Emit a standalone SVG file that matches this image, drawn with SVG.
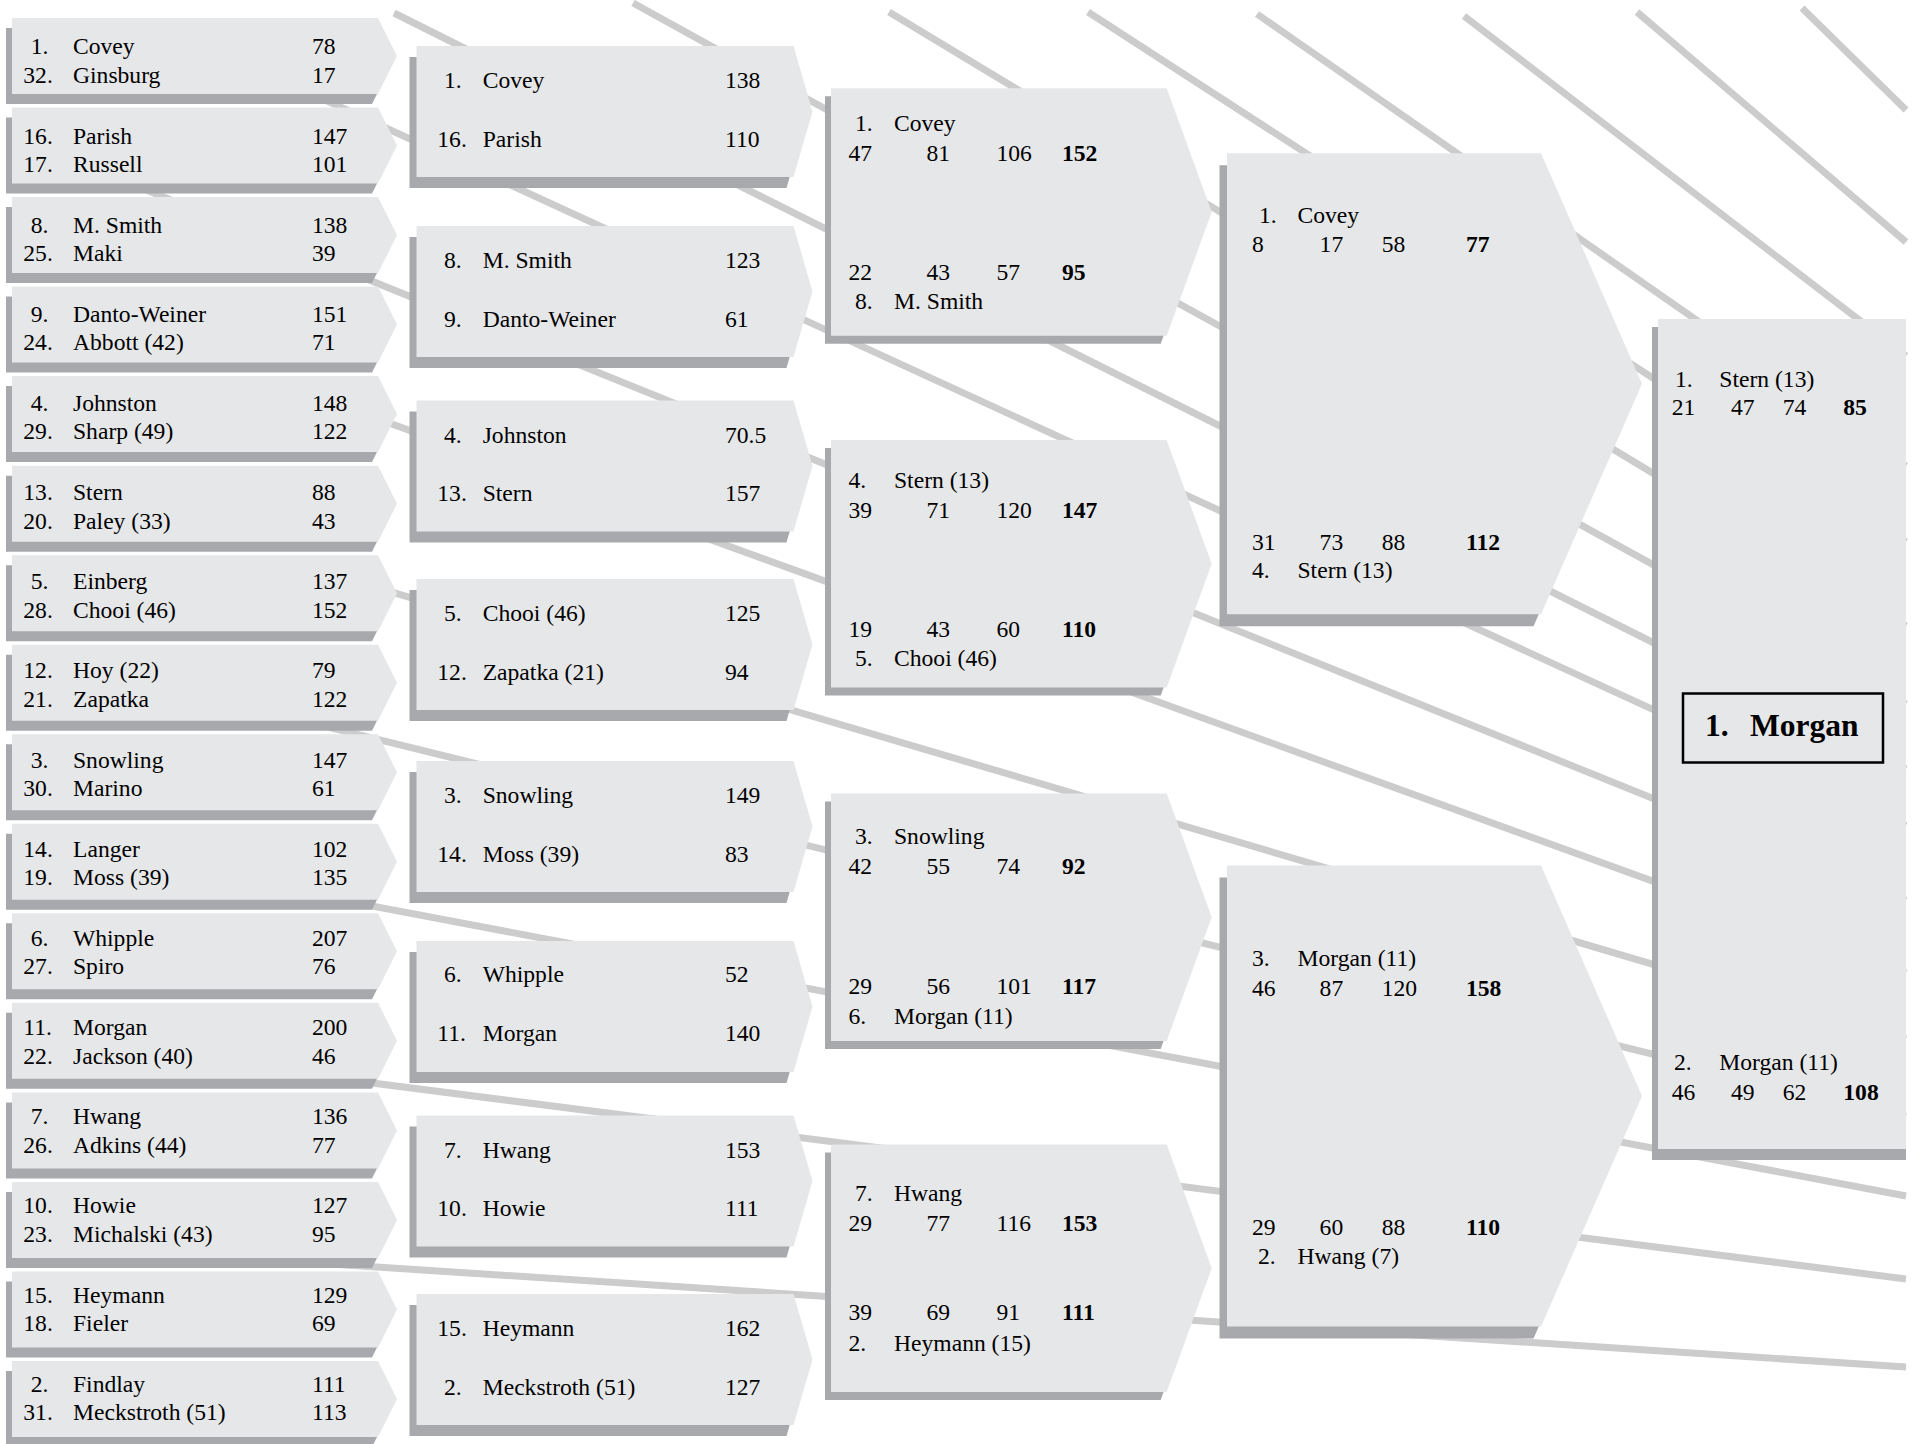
<svg xmlns="http://www.w3.org/2000/svg" width="1921" height="1444" viewBox="0 0 1921 1444" font-family="'Liberation Serif', 'Times New Roman', serif">
<style>
.bx{fill:#e6e7e8}
.sh{fill:#a7a9ac}
.ln{stroke:#cccccc;stroke-width:7;fill:none}
text{font-family:"Liberation Serif","Times New Roman",serif;font-size:23.6px;fill:#000}
.b{font-weight:bold}
.w{font-size:31.5px;font-weight:bold}
.fr{fill:none;stroke:#000;stroke-width:2.5}
</style>
<defs>
<polygon id="p1" points="0,0 366,0 385,38 366,76 0,76"/>
<polygon id="p2" points="0,0 377,0 396,65.5 377,131 0,131"/>
<polygon id="p3" points="0,0 335.7,0 380.7,123.75 335.7,247.5 0,247.5"/>
<polygon id="p4" points="0,0 314,0 415,230.5 314,461 0,461"/>
</defs>
<rect width="1921" height="1444" fill="#fff"/>
<g id="connectors">
<line class="ln" x1="1802" y1="8" x2="1906" y2="110"/>
<line class="ln" x1="1637" y1="12" x2="1906" y2="242"/>
<line class="ln" x1="1464" y1="16" x2="1906" y2="356"/>
<line class="ln" x1="1257" y1="14" x2="1906" y2="466"/>
<line class="ln" x1="1088" y1="12" x2="1906" y2="542"/>
<line class="ln" x1="889" y1="12" x2="1906" y2="626"/>
<line class="ln" x1="633" y1="3" x2="1906" y2="704"/>
<line class="ln" x1="394" y1="13" x2="1906" y2="769"/>
<line class="ln" x1="250" y1="65.5" x2="1906" y2="825.6"/>
<line class="ln" x1="20" y1="139" x2="1906" y2="900.6"/>
<line class="ln" x1="300" y1="390.7" x2="1906" y2="973"/>
<line class="ln" x1="300" y1="565" x2="1906" y2="1039"/>
<line class="ln" x1="320" y1="725.1" x2="1906" y2="1116.7"/>
<line class="ln" x1="300" y1="892.4" x2="1906" y2="1196"/>
<line class="ln" x1="300" y1="1073.8" x2="1906" y2="1279"/>
<line class="ln" x1="300" y1="1262" x2="1906" y2="1367"/>
</g>

<g id="r1-1"><use href="#p1" class="sh" x="6" y="28"/><use href="#p1" class="bx" x="12" y="18"/>
<text x="30.7" y="54.3">1.</text><text x="73" y="54.3">Covey</text><text x="312" y="54.3">78</text>
<text x="23.3" y="82.7">32.</text><text x="73" y="82.7">Ginsburg</text><text x="312" y="82.7">17</text></g>
<g id="r1-2"><use href="#p1" class="sh" x="6" y="117.5"/><use href="#p1" class="bx" x="12" y="107.5"/>
<text x="23.3" y="143.5">16.</text><text x="73" y="143.5">Parish</text><text x="312" y="143.5">147</text>
<text x="23.3" y="171.9">17.</text><text x="73" y="171.9">Russell</text><text x="312" y="171.9">101</text></g>
<g id="r1-3"><use href="#p1" class="sh" x="6" y="207.1"/><use href="#p1" class="bx" x="12" y="197.1"/>
<text x="30.7" y="232.6">8.</text><text x="73" y="232.6">M. Smith</text><text x="312" y="232.6">138</text>
<text x="23.3" y="261">25.</text><text x="73" y="261">Maki</text><text x="312" y="261">39</text></g>
<g id="r1-4"><use href="#p1" class="sh" x="6" y="296.6"/><use href="#p1" class="bx" x="12" y="286.6"/>
<text x="30.7" y="321.8">9.</text><text x="73" y="321.8">Danto-Weiner</text><text x="312" y="321.8">151</text>
<text x="23.3" y="350.2">24.</text><text x="73" y="350.2">Abbott (42)</text><text x="312" y="350.2">71</text></g>
<g id="r1-5"><use href="#p1" class="sh" x="6" y="386.1"/><use href="#p1" class="bx" x="12" y="376.1"/>
<text x="30.7" y="411">4.</text><text x="73" y="411">Johnston</text><text x="312" y="411">148</text>
<text x="23.3" y="439.4">29.</text><text x="73" y="439.4">Sharp (49)</text><text x="312" y="439.4">122</text></g>
<g id="r1-6"><use href="#p1" class="sh" x="6" y="475.7"/><use href="#p1" class="bx" x="12" y="465.7"/>
<text x="23.3" y="500.1">13.</text><text x="73" y="500.1">Stern</text><text x="312" y="500.1">88</text>
<text x="23.3" y="528.5">20.</text><text x="73" y="528.5">Paley (33)</text><text x="312" y="528.5">43</text></g>
<g id="r1-7"><use href="#p1" class="sh" x="6" y="565.2"/><use href="#p1" class="bx" x="12" y="555.2"/>
<text x="30.7" y="589.3">5.</text><text x="73" y="589.3">Einberg</text><text x="312" y="589.3">137</text>
<text x="23.3" y="617.7">28.</text><text x="73" y="617.7">Chooi (46)</text><text x="312" y="617.7">152</text></g>
<g id="r1-8"><use href="#p1" class="sh" x="6" y="654.7"/><use href="#p1" class="bx" x="12" y="644.7"/>
<text x="23.3" y="678.4">12.</text><text x="73" y="678.4">Hoy (22)</text><text x="312" y="678.4">79</text>
<text x="23.3" y="706.8">21.</text><text x="73" y="706.8">Zapatka</text><text x="312" y="706.8">122</text></g>
<g id="r1-9"><use href="#p1" class="sh" x="6" y="744.2"/><use href="#p1" class="bx" x="12" y="734.2"/>
<text x="30.7" y="767.6">3.</text><text x="73" y="767.6">Snowling</text><text x="312" y="767.6">147</text>
<text x="23.3" y="796">30.</text><text x="73" y="796">Marino</text><text x="312" y="796">61</text></g>
<g id="r1-10"><use href="#p1" class="sh" x="6" y="833.8"/><use href="#p1" class="bx" x="12" y="823.8"/>
<text x="23.3" y="856.7">14.</text><text x="73" y="856.7">Langer</text><text x="312" y="856.7">102</text>
<text x="23.3" y="885.1">19.</text><text x="73" y="885.1">Moss (39)</text><text x="312" y="885.1">135</text></g>
<g id="r1-11"><use href="#p1" class="sh" x="6" y="923.3"/><use href="#p1" class="bx" x="12" y="913.3"/>
<text x="30.7" y="945.9">6.</text><text x="73" y="945.9">Whipple</text><text x="312" y="945.9">207</text>
<text x="23.3" y="974.3">27.</text><text x="73" y="974.3">Spiro</text><text x="312" y="974.3">76</text></g>
<g id="r1-12"><use href="#p1" class="sh" x="6" y="1012.8"/><use href="#p1" class="bx" x="12" y="1002.8"/>
<text x="23.3" y="1035.1">11.</text><text x="73" y="1035.1">Morgan</text><text x="312" y="1035.1">200</text>
<text x="23.3" y="1063.5">22.</text><text x="73" y="1063.5">Jackson (40)</text><text x="312" y="1063.5">46</text></g>
<g id="r1-13"><use href="#p1" class="sh" x="6" y="1102.4"/><use href="#p1" class="bx" x="12" y="1092.4"/>
<text x="30.7" y="1124.2">7.</text><text x="73" y="1124.2">Hwang</text><text x="312" y="1124.2">136</text>
<text x="23.3" y="1152.6">26.</text><text x="73" y="1152.6">Adkins (44)</text><text x="312" y="1152.6">77</text></g>
<g id="r1-14"><use href="#p1" class="sh" x="6" y="1191.9"/><use href="#p1" class="bx" x="12" y="1181.9"/>
<text x="23.3" y="1213.4">10.</text><text x="73" y="1213.4">Howie</text><text x="312" y="1213.4">127</text>
<text x="23.3" y="1241.8">23.</text><text x="73" y="1241.8">Michalski (43)</text><text x="312" y="1241.8">95</text></g>
<g id="r1-15"><use href="#p1" class="sh" x="6" y="1281.4"/><use href="#p1" class="bx" x="12" y="1271.4"/>
<text x="23.3" y="1302.6">15.</text><text x="73" y="1302.6">Heymann</text><text x="312" y="1302.6">129</text>
<text x="23.3" y="1331">18.</text><text x="73" y="1331">Fieler</text><text x="312" y="1331">69</text></g>
<g id="r1-16"><use href="#p1" class="sh" x="6" y="1371"/><use href="#p1" class="bx" x="12" y="1361"/>
<text x="30.7" y="1391.7">2.</text><text x="73" y="1391.7">Findlay</text><text x="312" y="1391.7">111</text>
<text x="23.3" y="1420.1">31.</text><text x="73" y="1420.1">Meckstroth (51)</text><text x="312" y="1420.1">113</text></g>

<g id="r2-1"><use href="#p2" class="sh" x="409.5" y="57"/><use href="#p2" class="bx" x="416.5" y="46"/>
<text x="444" y="88.3">1.</text><text x="482.7" y="88.3">Covey</text><text x="725" y="88.3">138</text>
<text x="437.3" y="146.7">16.</text><text x="482.7" y="146.7">Parish</text><text x="725" y="146.7">110</text></g>
<g id="r2-2"><use href="#p2" class="sh" x="409.5" y="237"/><use href="#p2" class="bx" x="416.5" y="226"/>
<text x="444" y="268.3">8.</text><text x="482.7" y="268.3">M. Smith</text><text x="725" y="268.3">123</text>
<text x="444" y="326.7">9.</text><text x="482.7" y="326.7">Danto-Weiner</text><text x="725" y="326.7">61</text></g>
<g id="r2-3"><use href="#p2" class="sh" x="409.5" y="411.5"/><use href="#p2" class="bx" x="416.5" y="400.5"/>
<text x="444" y="442.8">4.</text><text x="482.7" y="442.8">Johnston</text><text x="725" y="442.8">70.5</text>
<text x="437.3" y="501.2">13.</text><text x="482.7" y="501.2">Stern</text><text x="725" y="501.2">157</text></g>
<g id="r2-4"><use href="#p2" class="sh" x="409.5" y="590"/><use href="#p2" class="bx" x="416.5" y="579"/>
<text x="444" y="621.3">5.</text><text x="482.7" y="621.3">Chooi (46)</text><text x="725" y="621.3">125</text>
<text x="437.3" y="679.7">12.</text><text x="482.7" y="679.7">Zapatka (21)</text><text x="725" y="679.7">94</text></g>
<g id="r2-5"><use href="#p2" class="sh" x="409.5" y="772"/><use href="#p2" class="bx" x="416.5" y="761"/>
<text x="444" y="803.3">3.</text><text x="482.7" y="803.3">Snowling</text><text x="725" y="803.3">149</text>
<text x="437.3" y="861.7">14.</text><text x="482.7" y="861.7">Moss (39)</text><text x="725" y="861.7">83</text></g>
<g id="r2-6"><use href="#p2" class="sh" x="409.5" y="952"/><use href="#p2" class="bx" x="416.5" y="941"/>
<text x="444" y="982">6.</text><text x="482.7" y="982">Whipple</text><text x="725" y="982">52</text>
<text x="437.3" y="1040.5">11.</text><text x="482.7" y="1040.5">Morgan</text><text x="725" y="1040.5">140</text></g>
<g id="r2-7"><use href="#p2" class="sh" x="409.5" y="1126.5"/><use href="#p2" class="bx" x="416.5" y="1115.5"/>
<text x="444" y="1157.8">7.</text><text x="482.7" y="1157.8">Hwang</text><text x="725" y="1157.8">153</text>
<text x="437.3" y="1216.2">10.</text><text x="482.7" y="1216.2">Howie</text><text x="725" y="1216.2">111</text></g>
<g id="r2-8"><use href="#p2" class="sh" x="409.5" y="1305"/><use href="#p2" class="bx" x="416.5" y="1294"/>
<text x="437.3" y="1336">15.</text><text x="482.7" y="1336">Heymann</text><text x="725" y="1336">162</text>
<text x="444" y="1394.7">2.</text><text x="482.7" y="1394.7">Meckstroth (51)</text><text x="725" y="1394.7">127</text></g>

<g id="r3-1"><use href="#p3" class="sh" x="825" y="96.3"/><use href="#p3" class="bx" x="831" y="88.3"/>
<text x="855" y="131">1.</text><text x="894" y="131">Covey</text>
<text x="848.5" y="160.5">47</text><text x="926.5" y="160.5">81</text><text x="996.5" y="160.5">106</text><text class="b" x="1062" y="160.5">152</text>
<text x="848.5" y="279.5">22</text><text x="926.5" y="279.5">43</text><text x="996.5" y="279.5">57</text><text class="b" x="1062" y="279.5">95</text>
<text x="855" y="308.5">8.</text><text x="894" y="308.5">M. Smith</text></g>
<g id="r3-2"><use href="#p3" class="sh" x="825" y="448"/><use href="#p3" class="bx" x="831" y="440"/>
<text x="848.5" y="488">4.</text><text x="894" y="488">Stern (13)</text>
<text x="848.5" y="518">39</text><text x="926.5" y="518">71</text><text x="996.5" y="518">120</text><text class="b" x="1062" y="518">147</text>
<text x="848.5" y="636.7">19</text><text x="926.5" y="636.7">43</text><text x="996.5" y="636.7">60</text><text class="b" x="1062" y="636.7">110</text>
<text x="855" y="666">5.</text><text x="894" y="666">Chooi (46)</text></g>
<g id="r3-3"><use href="#p3" class="sh" x="825" y="801.4"/><use href="#p3" class="bx" x="831" y="793.4"/>
<text x="855" y="844">3.</text><text x="894" y="844">Snowling</text>
<text x="848.5" y="874">42</text><text x="926.5" y="874">55</text><text x="996.5" y="874">74</text><text class="b" x="1062" y="874">92</text>
<text x="848.5" y="993.6">29</text><text x="926.5" y="993.6">56</text><text x="996.5" y="993.6">101</text><text class="b" x="1062" y="993.6">117</text>
<text x="848.5" y="1023.6">6.</text><text x="894" y="1023.6">Morgan (11)</text></g>
<g id="r3-4"><use href="#p3" class="sh" x="825" y="1152.6"/><use href="#p3" class="bx" x="831" y="1144.6"/>
<text x="855" y="1200.8">7.</text><text x="894" y="1200.8">Hwang</text>
<text x="848.5" y="1230.7">29</text><text x="926.5" y="1230.7">77</text><text x="996.5" y="1230.7">116</text><text class="b" x="1062" y="1230.7">153</text>
<text x="848.5" y="1319.6">39</text><text x="926.5" y="1319.6">69</text><text x="996.5" y="1319.6">91</text><text class="b" x="1062" y="1319.6">111</text>
<text x="848.5" y="1350.5">2.</text><text x="894" y="1350.5">Heymann (15)</text></g>

<g id="r4-1"><use href="#p4" class="sh" x="1219.5" y="165.3"/><use href="#p4" class="bx" x="1227" y="153.3"/>
<text x="1259" y="223.3">1.</text><text x="1297.5" y="223.3">Covey</text>
<text x="1252" y="251.7">8</text><text x="1319.6" y="251.7">17</text><text x="1381.7" y="251.7">58</text><text class="b" x="1465.9" y="251.7">77</text>
<text x="1252" y="550">31</text><text x="1319.6" y="550">73</text><text x="1381.7" y="550">88</text><text class="b" x="1465.9" y="550">112</text>
<text x="1252" y="578.3">4.</text><text x="1297.5" y="578.3">Stern (13)</text></g>
<g id="r4-2"><use href="#p4" class="sh" x="1219.5" y="877.6"/><use href="#p4" class="bx" x="1227" y="865.6"/>
<text x="1252" y="966">3.</text><text x="1297.5" y="966">Morgan (11)</text>
<text x="1252" y="996">46</text><text x="1319.6" y="996">87</text><text x="1381.7" y="996">120</text><text class="b" x="1465.9" y="996">158</text>
<text x="1252" y="1234.5">29</text><text x="1319.6" y="1234.5">60</text><text x="1381.7" y="1234.5">88</text><text class="b" x="1465.9" y="1234.5">110</text>
<text x="1258" y="1263.5">2.</text><text x="1297.5" y="1263.5">Hwang (7)</text></g>

<g id="final"><rect class="sh" x="1652" y="327" width="254" height="833"/><rect class="bx" x="1658" y="319" width="248" height="830"/>
<text x="1675" y="386.7">1.</text><text x="1719.3" y="386.7">Stern (13)</text>
<text x="1671.7" y="415">21</text><text x="1731" y="415">47</text><text x="1782.7" y="415">74</text><text class="b" x="1843.3" y="415">85</text>
<text x="1674" y="1069.8">2.</text><text x="1719.3" y="1069.8">Morgan (11)</text>
<text x="1671.7" y="1099.8">46</text><text x="1731" y="1099.8">49</text><text x="1782.7" y="1099.8">62</text><text class="b" x="1843.3" y="1099.8">108</text>
</g>
<g id="champion"><rect class="fr" x="1683" y="693.5" width="200" height="69"/>
<text class="w" x="1705" y="736">1.</text><text class="w" x="1750" y="736">Morgan</text></g>
</svg>
